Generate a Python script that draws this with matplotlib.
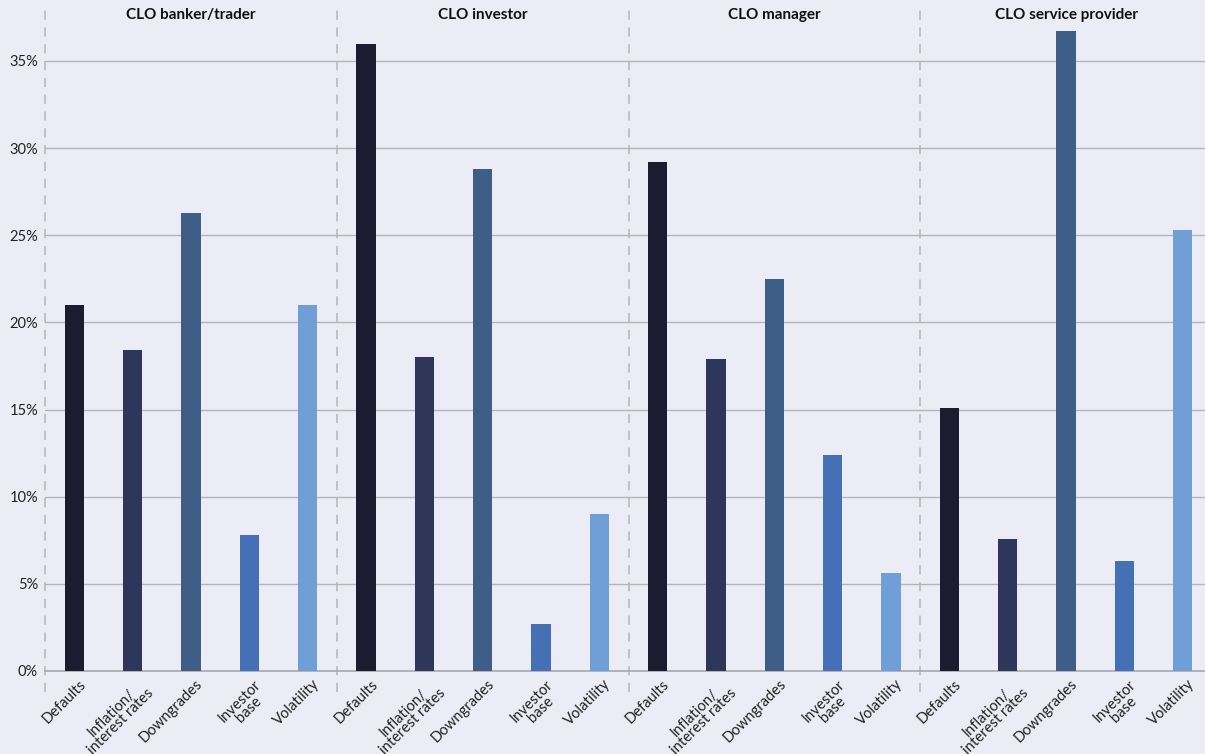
import matplotlib.pyplot as plt
from matplotlib.transforms import ScaledTranslation
import numpy as np

plt.rcParams['font.family'] = ['Lato', 'DejaVu Sans']

# data (percent)
groups = ["CLO banker/trader", "CLO investor", "CLO manager", "CLO service provider"]
categories = ["Defaults", "Inflation/\ninterest rates", "Downgrades", "Investor\nbase", "Volatility"]
banker = [21.0, 18.4, 26.3, 7.8, 21.0]
investor = [36.0, 18.0, 28.8, 2.7, 9.0]
manager = [29.2, 17.9, 22.5, 12.4, 5.6]
service = [15.1, 7.55, 36.7, 6.3, 25.3]
values = [banker, investor, manager, service]
colors = ["#1c1b30", "#2e365a", "#3e5e88", "#4670b5", "#6f9fd6"]
yticks = [0, 5, 10, 15, 20, 25, 30, 35]

bg = "#ececf6"
fig = plt.figure(figsize=(12.05, 7.54), dpi=100)
fig.patch.set_facecolor(bg)
ax = fig.add_axes([45/1205, 83/754, 1167/1205, 671/754])
ax.set_facecolor(bg)

# category labels: top-right corner of the text block sits just right of the bar
lab_tr = ax.get_xaxis_transform() + ScaledTranslation(4.5/100, -6/100, fig.dpi_scale_trans)

xpos = []
for g, vals in enumerate(values):
    for i, v in enumerate(vals):
        x = g*5 + i + 0.5
        xpos.append(x)
        ax.bar(x, v, width=0.33, color=colors[i], zorder=3)
        ax.text(x, 0, categories[i], transform=lab_tr, rotation=45,
                rotation_mode='anchor', ha='right', va='top',
                multialignment='center', fontsize=10.6, color='#222222',
                linespacing=0.9)
    ax.text(g*5 + 2.5, 38.5 - 0.85, groups[g], ha='center', va='center',
            fontsize=11, fontweight='bold', color='#111111')

# group separators
for g in range(4):
    ax.plot([g*5, g*5], [-1.2, 38.0], ls=(0, (6, 5)), color='#b4b4bc', lw=1.1,
            clip_on=False, zorder=2)

ax.set_xlim(0, 20)
ax.set_ylim(0, 38.5)
ax.set_yticks(yticks)
ax.set_yticklabels([f"{t}%" for t in yticks], fontsize=10.5, color='#222222')
ax.yaxis.grid(True, color='#b4b4bc', lw=1, zorder=1)
ax.tick_params(axis='both', length=0, pad=5)
ax.set_xticks(xpos)
ax.set_xticklabels([])

for s in ['top', 'right', 'left']:
    ax.spines[s].set_visible(False)
ax.spines['bottom'].set_color('#a8a8b0')
ax.spines['bottom'].set_linewidth(1.2)

plt.savefig("out.png", dpi=100, facecolor=bg)
